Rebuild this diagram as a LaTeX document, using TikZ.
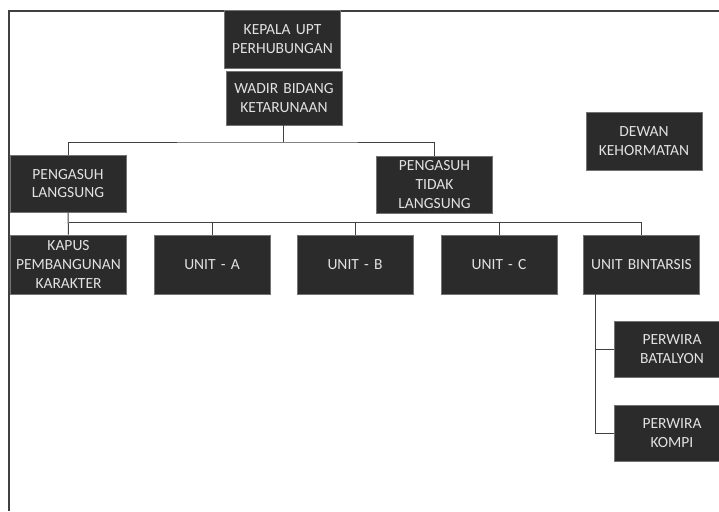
\documentclass[tikz,border=0pt]{standalone}
\usepackage{fontspec}
\setmainfont{Carlito}
\usetikzlibrary{positioning,calc}
\definecolor{boxgray}{HTML}{2B2B2B}
\definecolor{txtgray}{HTML}{E2E2E2}
\tikzset{every picture/.style={line join=miter}}

\begin{document}
\begin{tikzpicture}[
    x=1pt, y=-1pt,
    orgbox/.style={draw=black!55, line width=0.6pt, fill=boxgray, text=txtgray,
        minimum width=116pt, text width=112pt, align=center, inner sep=1pt,
        font=\fontsize{15.5}{18.6}\selectfont},
    link/.style={draw=black!75, line width=1pt}
]
    \clip (0,0) rectangle (719,511);
    % frame
    \draw[black!75, line width=1.6pt] (9,511) -- (9,11) -- (719,11);

    % top
    \node[orgbox, minimum height=58pt] (kepala) at (282.5,39) {KEPALA UPT\\PERHUBUNGAN};
    \node[orgbox, minimum height=54pt] (wadir) at (284,98) {WADIR BIDANG\\KETARUNAAN};
    \node[orgbox, minimum height=58pt] (dewan) at (644,141) {DEWAN\\KEHORMATAN};

    % pengasuh
    \node[orgbox, minimum height=57pt] (langsung) at (68,183.5) {PENGASUH\\LANGSUNG};
    \node[orgbox, minimum height=57pt] (tidak) at (434.5,184.5) {PENGASUH\\TIDAK\\LANGSUNG};

    % units
    \node[orgbox, minimum height=59pt] (kapus) at (68.5,264.5) {KAPUS\\PEMBANGUNAN\\KARAKTER};
    \node[orgbox, minimum height=59pt] (unitA) at (212,264.5) {UNIT - A};
    \node[orgbox, minimum height=59pt] (unitB) at (355,264.5) {UNIT - B};
    \node[orgbox, minimum height=59pt] (unitC) at (499,264.5) {UNIT - C};
    \node[orgbox, minimum height=59pt] (bintarsis) at (641.5,264.5) {UNIT BINTARSIS};

    % perwira
    \node[orgbox, minimum height=56pt] (batalyon) at (672,349) {PERWIRA\\BATALYON};
    \node[orgbox, minimum height=56pt] (kompi) at (672,433) {PERWIRA\\KOMPI};

    % connectors
    \coordinate (bus1) at (283,142);
    \coordinate (bus2) at (68.5,222);
    \coordinate (spine) at (595,294);
    \draw[link] (wadir.south -| bus1) -- (bus1);
    \draw[link] (langsung.north) |- (bus1) -| (tidak.north);
    \draw[link] (langsung.south) -- (kapus.north);
    \draw[link] (bus2) -| (bintarsis.north);
    \foreach \n in {unitA,unitB,unitC}
        \draw[link] (\n.north) -- (\n.north |- bus2);
    \draw[link] (spine) |- (kompi.west);
    \draw[link] (batalyon.west) -- (spine |- batalyon.west);
\end{tikzpicture}
\end{document}
